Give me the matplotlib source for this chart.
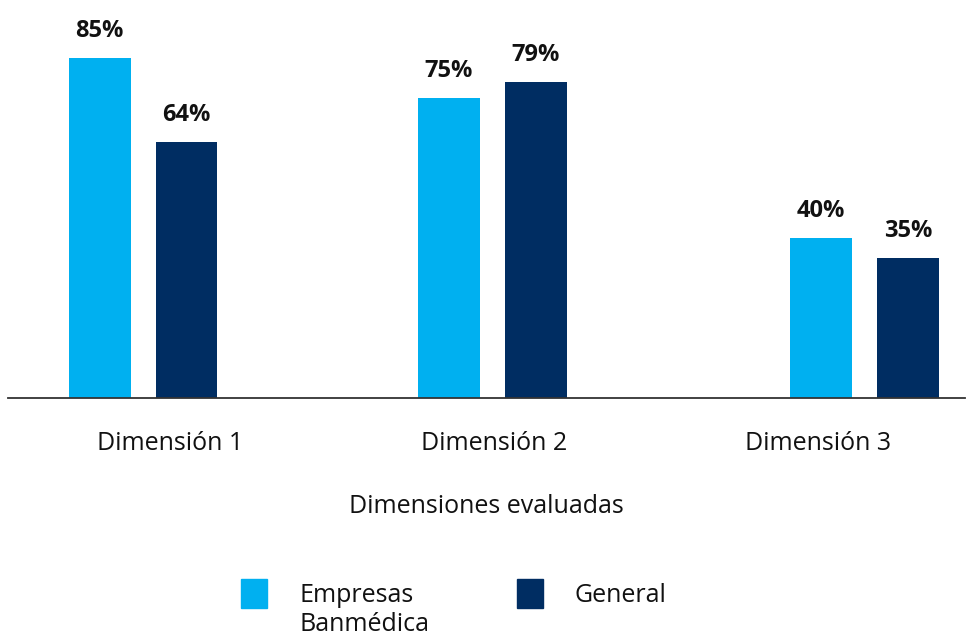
import matplotlib
matplotlib.use("Agg")
import matplotlib.pyplot as plt
from matplotlib.patches import Rectangle
import numpy as np

# ---- data ----
categories = ["Dimensión 1", "Dimensión 2", "Dimensión 3"]
series_names = ["Empresas\nBanmédica", "General"]
empresas = [85, 75, 40]
general = [64, 79, 35]
x_title = "Dimensiones evaluadas"

# ---- layout / style ----
colors = ["#00B0F0", "#002D62"]
group_shift = [-0.083, -0.005, 0.144]
half_gap = 0.134
bar_w = 0.191
txt = "#111111"
FS = 18

plt.rcParams["font.family"] = ["Open Sans", "DejaVu Sans"]

W, H = 968, 637
fig = plt.figure(figsize=(W / 100, H / 100), dpi=100)
ax = fig.add_axes([8 / W, 239 / H, 957 / W, 398 / H])

x = np.arange(len(categories)) + np.array(group_shift)
for vals, off, col in [(empresas, -half_gap, colors[0]),
                       (general, half_gap, colors[1])]:
    bars = ax.bar(x + off, vals, width=bar_w, color=col)
    ax.bar_label(bars, labels=[f"{v}%" for v in vals], padding=11,
                 fontsize=17, fontweight="bold", color=txt)

ax.set_xlim(-0.5, 2.454)
ax.set_ylim(0, 99.5)
ax.set_xticks(np.arange(len(categories)))
ax.set_xticklabels(categories, fontsize=FS, color=txt)
ax.tick_params(axis="x", length=0, pad=24)
ax.set_yticks([])
for s in ["top", "right", "left"]:
    ax.spines[s].set_visible(False)
ax.spines["bottom"].set_color("#333333")
ax.spines["bottom"].set_linewidth(1.3)
ax.set_xlabel(x_title, fontsize=FS, color=txt, labelpad=27)

# ---- legend (drawn manually so square aligns with first text line) ----
leg_items = [(series_names[0], colors[0], 241, 300),
             (series_names[1], colors[1], 517, 575)]
for name, col, sx, tx in leg_items:
    fig.add_artist(Rectangle((sx / W, 1 - 608 / H), 26 / W, 29 / H,
                             transform=fig.transFigure, color=col))
    fig.text(tx / W, 1 - 583 / H, name, fontsize=FS, color=txt,
             ha="left", va="top", linespacing=1.2)

fig.savefig("out.png", dpi=100)
